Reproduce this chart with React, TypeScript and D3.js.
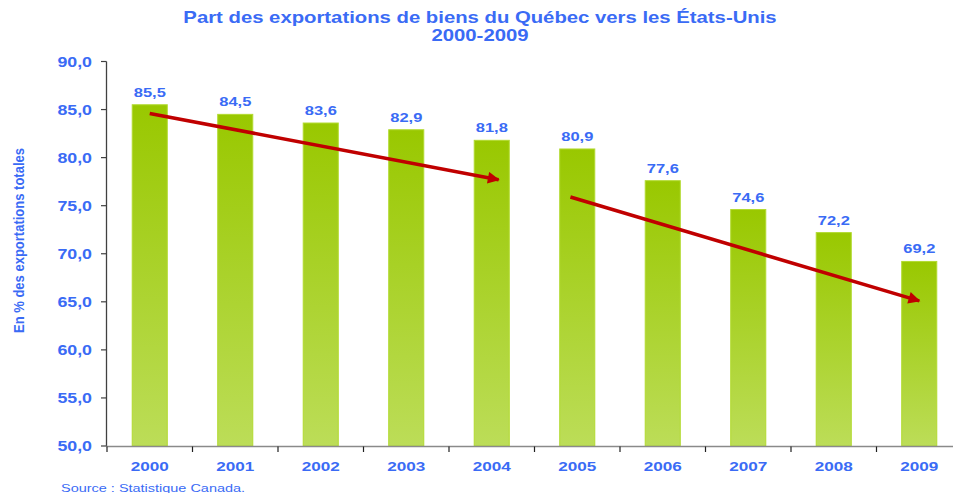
import React from "react";
import * as d3 from "d3";

const years = ["2000", "2001", "2002", "2003", "2004", "2005", "2006", "2007", "2008", "2009"];
const shares = [85.5, 84.5, 83.6, 82.9, 81.8, 80.9, 77.6, 74.6, 72.2, 69.2];
const yTicks = [50, 55, 60, 65, 70, 75, 80, 85, 90];
const trendStarts = [
  { year: "2000", value: 84.6, off: 0 },
  { year: "2005", value: 75.9, off: -0.08 },
];
const trendEnds = [
  { year: "2004", value: 77.7, off: 0.08 },
  { year: "2009", value: 65.1, off: 0 },
];

const W = 953;
const H = 493;
const BLUE = "#3A6BF5";
const SX = 1.27;
const fmt = (v: number) => v.toFixed(1).replace(".", ",");

function Txt(props: { x: number; y: number; size: number; anchor?: string; bold?: boolean; children: React.ReactNode }) {
  const { x, y, size, anchor = "middle", bold = true, children } = props;
  return (
    <g transform={`translate(${x},${y}) scale(${SX},1)`}>
      <text x={0} y={0} textAnchor={anchor} fontSize={size} fontWeight={bold ? "bold" : "normal"} fill={BLUE}>
        {children}
      </text>
    </g>
  );
}

export default function App() {
  const x = d3.scaleBand<string>().domain(years).range([107, 962]).paddingInner(0.59).paddingOuter(0.295);
  const y = d3.scaleLinear().domain([50, 90]).range([446, 61.5]);
  const bw = x.bandwidth();
  const cx = (yr: string) => (x(yr) as number) + bw / 2;
  const step = x.step();
  const ticksX = years.map((_, i) => 107 + i * step).concat([107 + years.length * step]);

  return (
    <svg width={W} height={H} style={{ position: "absolute", left: 0, top: 0, background: "#fff" }}
      fontFamily="'Liberation Sans', Arial, sans-serif">
      <defs>
        <linearGradient id="barGrad" x1="0" y1="0" x2="0" y2="1">
          <stop offset="0" stopColor="#99C800" />
          <stop offset="1" stopColor="#BCDD58" />
        </linearGradient>
        <marker id="ah" viewBox="0 0 10 10" refX="9" refY="5" markerWidth="4.2" markerHeight="3.4" orient="auto" markerUnits="strokeWidth">
          <path d="M0,0 L10,5 L0,10 Z" fill="#C00000" />
        </marker>
      </defs>
      <Txt x={480} y={23} size={16}>Part des exportations de biens du Québec vers les États-Unis</Txt>
      <Txt x={480} y={41} size={16}>2000-2009</Txt>
      <text transform="translate(24,240.5) rotate(-90)" textAnchor="middle" fontSize={14} fontWeight="bold" fill={BLUE}
        fontFamily="'Liberation Sans Narrow', 'Arial Narrow', 'Liberation Sans', sans-serif"
        textLength={185} lengthAdjust="spacingAndGlyphs">
        En % des exportations totales
      </text>
      {years.map((yr, i) => (
        <g key={yr}>
          <rect x={x(yr)} y={y(shares[i])} width={bw} height={y(50) - y(shares[i])}
            fill="url(#barGrad)" stroke="#B2DA30" strokeWidth={1} />
          <Txt x={cx(yr)} y={y(shares[i]) - 8} size={13}>{fmt(shares[i])}</Txt>
          <Txt x={cx(yr)} y={471} size={13.5}>{yr}</Txt>
        </g>
      ))}
      <line x1={106.5} x2={106.5} y1={y(90)} y2={y(50)} stroke="#404040" strokeWidth={1.3} />
      {yTicks.map((t) => (
        <g key={t}>
          <line x1={101} x2={106.5} y1={y(t)} y2={y(t)} stroke="#404040" strokeWidth={1.2} />
          <Txt x={92} y={y(t) + 5} size={14} anchor="end">{fmt(t)}</Txt>
        </g>
      ))}
      <line x1={106} x2={962} y1={446.5} y2={446.5} stroke="#8A8A8A" strokeWidth={1.5} />
      {ticksX.map((tx, i) => (
        <line key={i} x1={tx} x2={tx} y1={446.5} y2={452} stroke="#202020" strokeWidth={1.2} />
      ))}
      {trendStarts.map((s, i) => {
        const e = trendEnds[i];
        return (
          <line key={i} x1={cx(s.year) + s.off * step} y1={y(s.value)} x2={cx(e.year) + e.off * step} y2={y(e.value)}
            stroke="#C00000" strokeWidth={3.5} markerEnd="url(#ah)" />
        );
      })}
      <Txt x={61} y={491.5} size={11.4} anchor="start" bold={false}>Source : Statistique Canada.</Txt>
    </svg>
  );
}
